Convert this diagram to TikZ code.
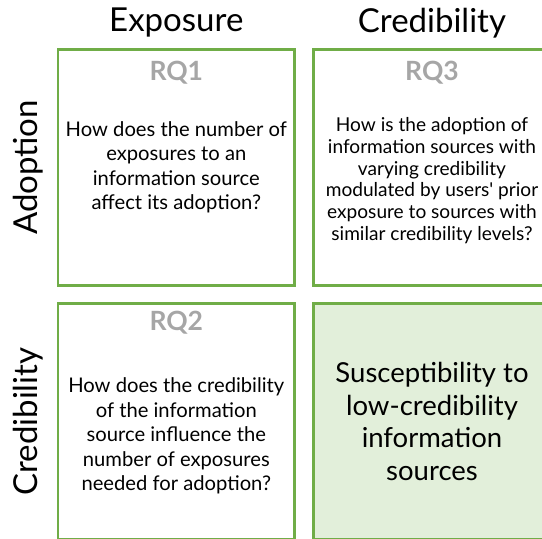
\documentclass[tikz,border=0pt]{standalone}
\usepackage{fontspec}
\setmainfont{Lato}
\definecolor{rqgreen}{HTML}{70AD47}
\definecolor{rqfill}{HTML}{E2EFDA}
\definecolor{rqgray}{HTML}{A6A6A6}
\begin{document}
\begin{tikzpicture}[x=1pt,y=-1pt,
    cell/.style={draw=rqgreen,line width=2.5pt,minimum width=236.7pt,minimum height=235.6pt,inner sep=0pt},
    head/.style={font=\fontsize{33}{40}\selectfont},
    rqlabel/.style={text=rqgray,font=\fontsize{26.5}{30}\selectfont\bfseries},
    question/.style={align=center,font=\fontsize{20.2}{24.5}\selectfont}]

        \useasboundingbox (0,0) rectangle (542,539);

        % grid of cells
        \node[cell] (c11) at (176.3,167.5) {};
        \node[cell] (c12) at (432,167.5) {};
        \node[cell] (c21) at (176.3,421.5) {};
        \node[cell,fill=rqfill] (c22) at (432,421.5) {};

        % column and row headings
        \begin{scope}[every node/.style={head}]
          \node (exp)  at (176.3,23) {Exposure};
          \node (cred) at (432,23)   {Credibility};
          \node[rotate=90] (adop)  at (28.5,167.5) {Adoption};
          \node[rotate=90] (credr) at (28.5,421.5) {Credibility};
        \end{scope}

        \begin{scope}[every node/.style={rqlabel}]
          \node (rq1) at (176.3,72.5) {RQ1};
          \node (rq3) at (432,72.5)   {RQ3};
          \node (rq2) at (176.3,322.5) {RQ2};
        \end{scope}

        \node[question] (q1) at (176.3,167.5) {How does the number of\\exposures to an\\information source\\affect its adoption?};
        \node[question,font=\fontsize{19.1}{21.8}\selectfont] (q3) at (432,180.5) {How is the adoption of\\information sources with\\varying credibility\\modulated by users\textquotesingle{} prior\\exposure to sources with\\similar credibility levels?};
        \node[question] (q2) at (176.3,436) {How does the credibility\\of the information\\source influence the\\number of exposures\\needed for adoption?};
        \node[question,font=\fontsize{27.5}{32.7}\selectfont] (sus) at (432,421.5) {Susceptibility to\\low-credibility\\information\\sources};

      \end{tikzpicture}
\end{document}
